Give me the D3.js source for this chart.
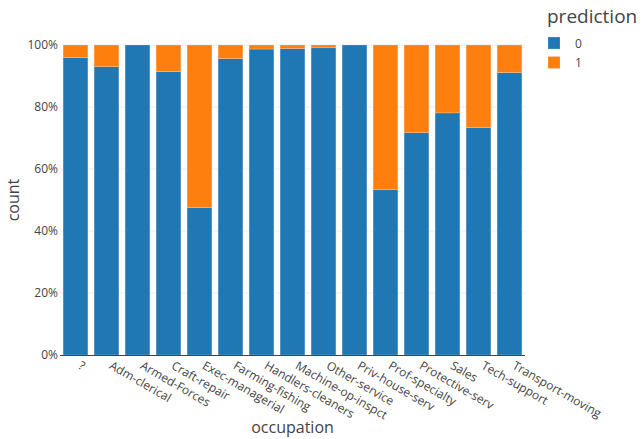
<!DOCTYPE html>
<html>
<head>
<meta charset="utf-8">
<script src="https://cdn.jsdelivr.net/npm/d3@7"></script>
<style>
  body { margin: 0; background: #fff; }
  text { font-family: "Open Sans", verdana, arial, sans-serif; fill: #444; }
</style>
</head>
<body>
<div id="view"></div>
<script>
var width = 644, height = 439;

// データ
var occupations = ["?", "Adm-clerical", "Armed-Forces", "Craft-repair", "Exec-managerial",
  "Farming-fishing", "Handlers-cleaners", "Machine-op-inspct", "Other-service",
  "Priv-house-serv", "Prof-specialty", "Protective-serv", "Sales", "Tech-support",
  "Transport-moving"];
var pred0 = [0.959, 0.930, 1.0, 0.914, 0.475, 0.956, 0.987, 0.988, 0.991, 1.0,
  0.533, 0.717, 0.781, 0.734, 0.911];
var pred1 = pred0.map(function(v) { return 1 - v; });
var predictions = ["0", "1"];
var colors = ["#1f77b4", "#ff7f0e"];
var yTicks = [0, 0.2, 0.4, 0.6, 0.8, 1.0];

var margin = { left: 60, right: 119, top: 45, bottom: 84 };

var svg = d3.select("#view").append("svg")
  .attr("width", width)
  .attr("height", height);

var x = d3.scaleBand()
  .domain(occupations)
  .range([margin.left, width - margin.right])
  .paddingInner(0.2)
  .paddingOuter(0.1);

var y = d3.scaleLinear()
  .domain([0, 1])
  .range([height - margin.bottom, margin.top]);

// グリッド線
svg.selectAll(".grid")
  .data(yTicks.slice(1)).enter()
  .append("line")
  .attr("x1", margin.left).attr("x2", width - margin.right)
  .attr("y1", function(d) { return y(d); })
  .attr("y2", function(d) { return y(d); })
  .style("stroke", "#eee")
  .style("stroke-width", 1);

// 積み上げ
var rows = occupations.map(function(o, i) { return { occ: o, p0: pred0[i], p1: pred1[i] }; });
var stack = d3.stack().keys(["p0", "p1"])(rows);

svg.selectAll(".series")
  .data(stack).enter()
  .append("g")
  .attr("class", "series")
  .style("fill", function(d, i) { return colors[i]; })
  .selectAll("rect")
  .data(function(d) { return d; }).enter()
  .append("rect")
  .attr("x", function(d) { return x(d.data.occ); })
  .attr("width", x.bandwidth())
  .attr("y", function(d) { return y(d[1]); })
  .attr("height", function(d) { return y(d[0]) - y(d[1]); })
  .style("stroke", "rgba(229,236,246,0.5)")
  .style("stroke-width", 0.5);

// y軸
var yAxis = svg.append("g")
  .attr("transform", "translate(" + margin.left + ",0)")
  .call(d3.axisLeft(y).tickValues(yTicks).tickFormat(d3.format(".0%")).tickSize(0).tickPadding(2));
yAxis.select(".domain").remove();
yAxis.selectAll("text").style("font-size", "12px").style("fill", "#444")
  .style("font-family", "'Open Sans', verdana, arial, sans-serif");

// x軸
var xAxis = svg.append("g")
  .attr("transform", "translate(0," + y(0) + ")")
  .call(d3.axisBottom(x).tickSize(0));
xAxis.select(".domain")
  .attr("d", "M" + margin.left + ",0.5H" + (width - margin.right))
  .style("stroke", "#444").style("stroke-width", 1);
xAxis.selectAll("text")
  .attr("y", 0).attr("dy", 0)
  .attr("text-anchor", "start")
  .attr("transform", "translate(2,13) rotate(30)")
  .style("font-size", "12px").style("fill", "#444")
  .style("font-family", "'Open Sans', verdana, arial, sans-serif");

// 軸タイトル
svg.append("text")
  .attr("x", (margin.left + width - margin.right) / 2)
  .attr("y", 433)
  .attr("text-anchor", "middle")
  .style("font-size", "16px")
  .text("occupation");

svg.append("text")
  .attr("transform", "translate(19," + ((margin.top + height - margin.bottom) / 2) + ") rotate(-90)")
  .attr("text-anchor", "middle")
  .style("font-size", "16px")
  .text("count");

// 凡例
var legend = svg.append("g").attr("transform", "translate(547,0)");
legend.append("text")
  .attr("x", 0).attr("y", 23)
  .style("font-size", "19px")
  .text("prediction");
legend.selectAll(".item")
  .data(predictions).enter()
  .append("g")
  .attr("class", "item")
  .attr("transform", function(d, i) { return "translate(0," + (43 + i * 19.5) + ")"; })
  .each(function(d, i) {
    var g = d3.select(this);
    g.append("rect").attr("x", 1).attr("y", -6).attr("width", 12).attr("height", 12)
      .style("fill", colors[i]).style("stroke", "rgba(229,236,246,0.5)").style("stroke-width", 0.5);
    g.append("text").attr("x", 28).attr("y", 4.5).style("font-size", "12px").text(d);
  });
</script>
</body>
</html>
